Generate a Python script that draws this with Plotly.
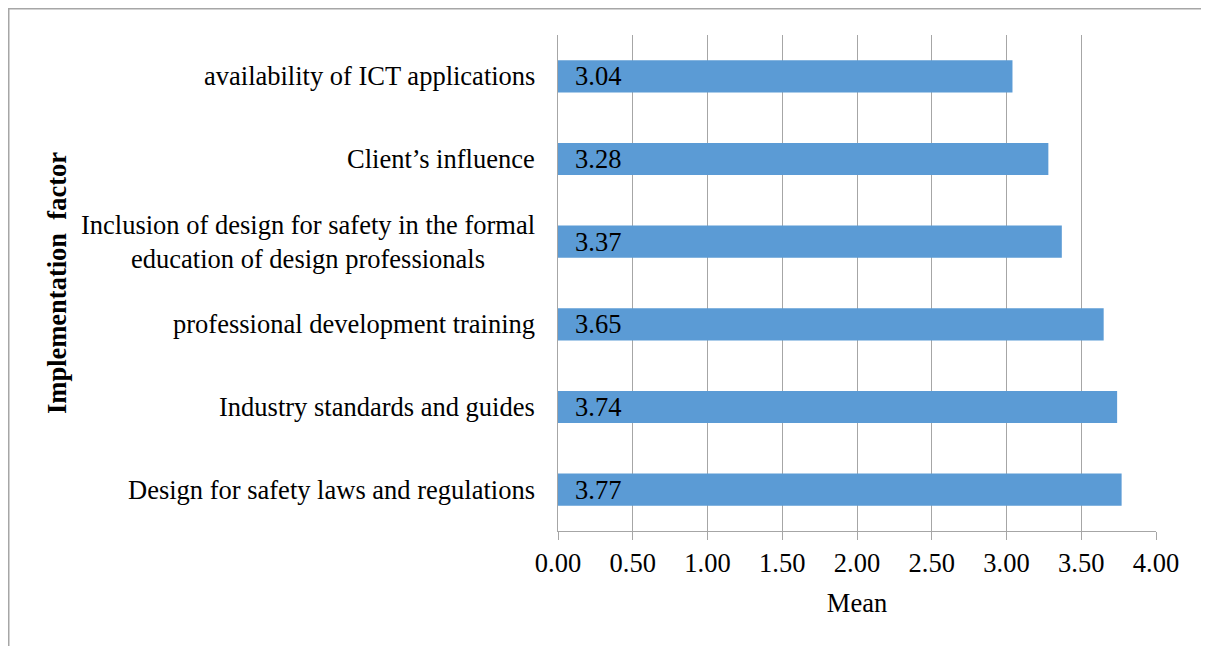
import plotly.graph_objects as go

categories = [
    "availability of ICT applications",
    "Client’s influence",
    "Inclusion of design for safety in the formal<br>education of design professionals",
    "professional development training",
    "Industry standards and guides",
    "Design for safety laws and regulations",
]
means = [3.04, 3.28, 3.37, 3.65, 3.74, 3.77]
tick_vals = [0, 0.5, 1.0, 1.5, 2.0, 2.5, 3.0, 3.5, 4.0]
tick_text = ["0.00", "0.50", "1.00", "1.50", "2.00", "2.50", "3.00", "3.50", "4.00"]

FONT = "Liberation Serif, Times New Roman, serif"
FS = 26.5
# page body has an 8px margin, so the figure is 8px smaller and offset
W, H = 1201, 638
L, R, T, B = 550, 53, 27, 115
pw, ph = W - L - R, H - T - B

fig = go.Figure(go.Bar(
    x=means, y=categories, orientation="h",
    marker=dict(color="#5B9BD5", line=dict(width=0)),
    width=0.39, hoverinfo="x+y",
))

annotations = []
for c, v in zip(categories, means):
    annotations.append(dict(x=0, y=c, xref="x", yref="y", text=f"{v:.2f}",
                            showarrow=False, xanchor="left", xshift=15,
                            font=dict(family=FONT, size=FS, color="black")))
    annotations.append(dict(x=0, y=c, xref="x", yref="y", text=c,
                            showarrow=False, xanchor="right", xshift=-21, align="center",
                            font=dict(family=FONT, size=FS, color="black")))
annotations.append(dict(x=(49 - L) / pw, y=(H - B - 275) / ph, xref="paper", yref="paper",
                        text="<b>Implementation  factor</b>", textangle=-90,
                        showarrow=False, xanchor="center", yanchor="middle",
                        font=dict(family=FONT, size=FS, color="black")))

fig.update_layout(
    width=W, height=H,
    margin=dict(l=L, r=R, t=T, b=B),
    paper_bgcolor="white", plot_bgcolor="white",
    showlegend=False,
    font=dict(family=FONT, size=FS, color="black"),
    xaxis=dict(range=[0, 4], tickvals=tick_vals, ticktext=tick_text,
               showgrid=True, gridcolor="#A6A6A6", gridwidth=1,
               showline=True, linecolor="#A6A6A6", linewidth=1,
               ticks="outside", ticklen=8, tickcolor="#A6A6A6",
               zeroline=False, fixedrange=True,
               tickfont=dict(family=FONT, size=FS, color="black"),
               title=dict(text="Mean", font=dict(family=FONT, size=FS, color="black"), standoff=16)),
    yaxis=dict(autorange="reversed", showticklabels=False, showgrid=False,
               showline=True, linecolor="#A6A6A6", linewidth=1,
               ticks="", zeroline=False, fixedrange=True),
    annotations=annotations,
    shapes=[dict(type="rect", xref="paper", yref="paper",
                 x0=(0.75 - L) / pw, x1=(1197 - L) / pw,
                 y0=(H - B - 700) / ph, y1=(H - B - 0.75) / ph,
                 line=dict(color="#A6A6A6", width=1.5), fillcolor="rgba(0,0,0,0)",
                 layer="below")],
)

fig.write_html("out.html")
